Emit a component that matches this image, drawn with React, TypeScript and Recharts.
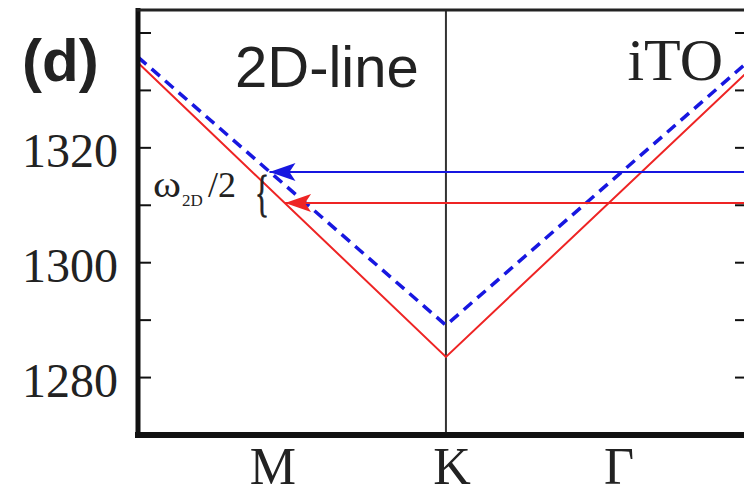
import { Line, LineChart, ReferenceLine, XAxis, YAxis } from "recharts";

// path M - K - Γ, x in units of the M-K distance
const pathX = [-1.78, 0, 1.746];
const lowerBranch = [1334.8, 1283.6, 1333.3]; // red, solid
const upperBranch = [1335.8, 1289.1, 1335.0]; // blue, dashed

const blueArrowX = [-1.02, 1.746];
const blueArrowLevel = 1315.8;
const redArrowX = [-0.93, 1.746];
const redArrowLevel = 1310.4;

const symPoints = [-1, 0, 1];
const symLabels = ["M", "K", "Γ"];
const yTicks = [1280, 1290, 1300, 1310, 1320, 1330, 1340];
const yDomain = [1270, 1344];
const xDomain = [pathX[0], pathX[pathX.length - 1]];

const RED = "#ee2424";
const BLUE = "#1717e0";
const W = 744;
const H = 488;
const PLOT_L = 130;
const PLOT_R = 740;

const lowerData = pathX.map((x, i) => ({ x, y: lowerBranch[i] }));
const upperData = pathX.map((x, i) => ({ x, y: upperBranch[i] }));
const blueArrow = blueArrowX.map((x) => ({ x, y: blueArrowLevel }));
const redArrow = redArrowX.map((x) => ({ x, y: redArrowLevel }));

function arrowHead(color: string) {
	return (props: any) => {
		const { cx, cy, index } = props;
		if (index !== 0) return <g key={`n${index}`} />;
		return (
			<path
				key="head"
				d={`M${cx},${cy} L${cx + 26},${cy - 9} L${cx + 20},${cy} L${cx + 26},${cy + 9} Z`}
				fill={color}
			/>
		);
	};
}

// labels only every 20, inward tick marks on both sides every 10
function YTick(props: any) {
	const { y, payload } = props;
	const v = payload.value;
	return (
		<g>
			<line x1={PLOT_L} x2={PLOT_L + 13} y1={y} y2={y} stroke="#111" strokeWidth={2} />
			<line x1={PLOT_R} x2={PLOT_R - 13} y1={y} y2={y} stroke="#111" strokeWidth={2} />
			{v % 20 === 0 && v < 1340 ? (
				<text x={110} y={y + 19} textAnchor="end" fontFamily="Liberation Serif, serif" fontSize={48} fill="#222">
					{v}
				</text>
			) : null}
		</g>
	);
}

function XLabel(props: any) {
	const { x, payload } = props;
	const i = symPoints.indexOf(payload.value);
	return (
		<text x={x + (i === 1 ? 6 : 0)} y={476} textAnchor="middle" fontFamily="Liberation Serif, serif" fontSize={52} fill="#222">
			{symLabels[i]}
		</text>
	);
}

export default function App() {
	return (
		<div style={{ position: "relative", width: W, height: H }}>
			<LineChart width={W} height={H} margin={{ top: 2, right: 4, left: 0, bottom: 0 }}>
				<XAxis
					type="number"
					dataKey="x"
					domain={xDomain}
					ticks={symPoints}
					height={61}
					axisLine={false}
					tickLine={false}
					tick={<XLabel />}
				/>
				<YAxis
					yAxisId="l"
					type="number"
					domain={yDomain}
					ticks={yTicks}
					width={130}
					axisLine={false}
					tickLine={false}
					tick={<YTick />}
				/>
				<ReferenceLine yAxisId="l" x={0} stroke="#333" strokeWidth={2} />
				<Line
					yAxisId="l"
					data={lowerData}
					dataKey="y"
					stroke={RED}
					strokeWidth={2}
					dot={false}
					isAnimationActive={false}
				/>
				<Line
					yAxisId="l"
					data={upperData}
					dataKey="y"
					stroke={BLUE}
					strokeWidth={3.5}
					strokeDasharray="11 7"
					dot={false}
					isAnimationActive={false}
				/>
				<Line
					yAxisId="l"
					data={blueArrow}
					dataKey="y"
					stroke={BLUE}
					strokeWidth={2}
					dot={arrowHead(BLUE)}
					isAnimationActive={false}
				/>
				<Line
					yAxisId="l"
					data={redArrow}
					dataKey="y"
					stroke={RED}
					strokeWidth={2}
					dot={arrowHead(RED)}
					isAnimationActive={false}
				/>
				<ReferenceLine yAxisId="l" x={xDomain[0]} stroke="#111" strokeWidth={5} strokeLinecap="square" />
				<ReferenceLine yAxisId="l" x={xDomain[1]} stroke="#222" strokeWidth={3} strokeLinecap="square" />
				<ReferenceLine yAxisId="l" y={yDomain[0]} stroke="#111" strokeWidth={6} strokeLinecap="square" />
				<ReferenceLine yAxisId="l" y={yDomain[1]} stroke="#222" strokeWidth={3} strokeLinecap="square" />
			</LineChart>
			<svg width={W} height={H} style={{ position: "absolute", left: 0, top: 0, pointerEvents: "none" }}>
				<text x={14} y={73} fontFamily="Liberation Sans, Arial, sans-serif" fontWeight="bold" fontSize={60} fill="#222">
					(d)
				</text>
				<text x={227} y={79} fontFamily="Liberation Sans, Arial, sans-serif" fontSize={58} fill="#222">
					2D-line
				</text>
				<text x={715} y={72} textAnchor="end" fontFamily="Liberation Serif, serif" fontSize={60} fill="#222">
					iTO
				</text>
				<text
					x={145}
					y={189}
					fontFamily="Liberation Serif, serif"
					fontSize={38}
					fill="#222"
					textLength={28}
					lengthAdjust="spacingAndGlyphs"
				>
					ω
				</text>
				<text x={174} y={198} fontFamily="Liberation Serif, serif" fontSize={17} fill="#222">
					2D
				</text>
				<text x={200} y={189} fontFamily="Liberation Serif, serif" fontSize={36} fill="#222">
					/2
				</text>
				<text
					x={247}
					y={202}
					fontFamily="Liberation Serif, serif"
					fontSize={50}
					fill="#222"
					stroke="#222"
					strokeWidth={0.8}
					textLength={14}
					lengthAdjust="spacingAndGlyphs"
				>
					{"{"}
				</text>
			</svg>
		</div>
	);
}
